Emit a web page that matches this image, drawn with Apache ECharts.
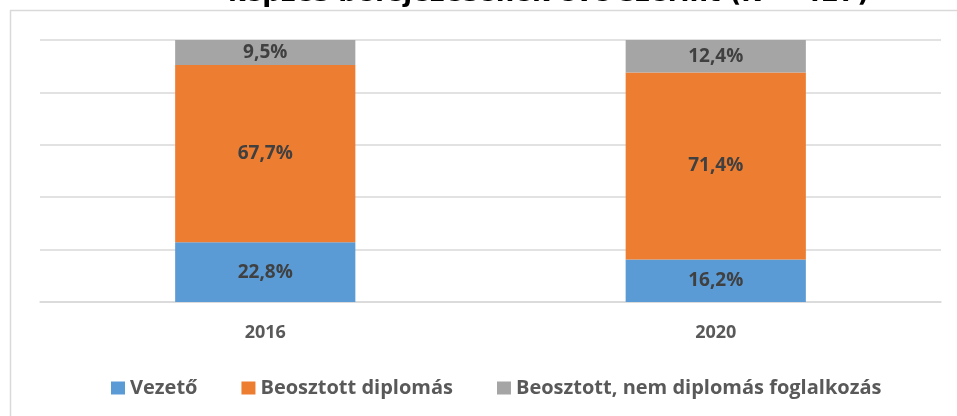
<!DOCTYPE html>
<html><head><meta charset="utf-8">
<script src="https://cdn.jsdelivr.net/npm/echarts@6/dist/echarts.min.js"></script>
<style>html,body{margin:0;padding:0;background:#fff}#c{width:957px;height:416px}</style>
</head><body><div id="c"></div>
<script>
const titleText = 'képzés befejezésének éve szerint (N = 427)';
const categories = ['2016', '2020'];
const vezeto = [22.8, 16.2];
const beosztottDiplomas = [67.7, 71.4];
const beosztottNem = [9.5, 12.4];
const seriesNames = ['Vezető', 'Beosztott diplomás', 'Beosztott, nem diplomás foglalkozás'];
const colors = ['#5B9BD5', '#ED7D31', '#A5A5A5'];

const font = 'Open Sans';
const chart = echarts.init(document.getElementById('c'));
const mk = (name, data, color) => ({
  name, type: 'bar', stack: 'a', data, barWidth: '40%',
  itemStyle: { color },
  label: { show: true, position: 'inside', color: '#404040', fontFamily: font, fontWeight: 'bold', fontSize: 19,
    formatter: p => p.value.toFixed(1).replace('.', ',') + '%' }
});
chart.setOption({
  animation: false,
  title: { text: titleText, left: 223, top: -24, textStyle: { fontFamily: 'DejaVu Sans', fontWeight: 'bold', fontSize: 26, color: '#000' } },
  graphic: [
    { type: 'line', shape: { x1: 10, y1: 10.5, x2: 957, y2: 10.5 }, style: { stroke: '#d9d9d9', lineWidth: 1.5 }, z: -1 },
    { type: 'line', shape: { x1: 10.5, y1: 10, x2: 10.5, y2: 416 }, style: { stroke: '#d9d9d9', lineWidth: 1.5 }, z: -1 }
  ],
  grid: { left: 40, right: 16, top: 40, bottom: 114 },
  legend: { top: 373, left: 106, itemWidth: 14, itemHeight: 13, itemGap: 44, icon: 'rect',
    textStyle: { fontFamily: font, fontWeight: 'bold', fontSize: 20, color: '#595959' } },
  xAxis: { type: 'category', data: categories,
    axisLine: { lineStyle: { color: '#d9d9d9', width: 1.5 } }, axisTick: { show: false },
    axisLabel: { fontFamily: font, fontWeight: 'bold', fontSize: 18, color: '#595959', margin: 22 } },
  yAxis: { type: 'value', min: 0, max: 100, interval: 20, axisLabel: { show: false },
    splitLine: { lineStyle: { color: '#d9d9d9', width: 1.5 } } },
  series: [mk(seriesNames[0], vezeto, colors[0]), mk(seriesNames[1], beosztottDiplomas, colors[1]), mk(seriesNames[2], beosztottNem, colors[2])]
});
</script></body></html>
